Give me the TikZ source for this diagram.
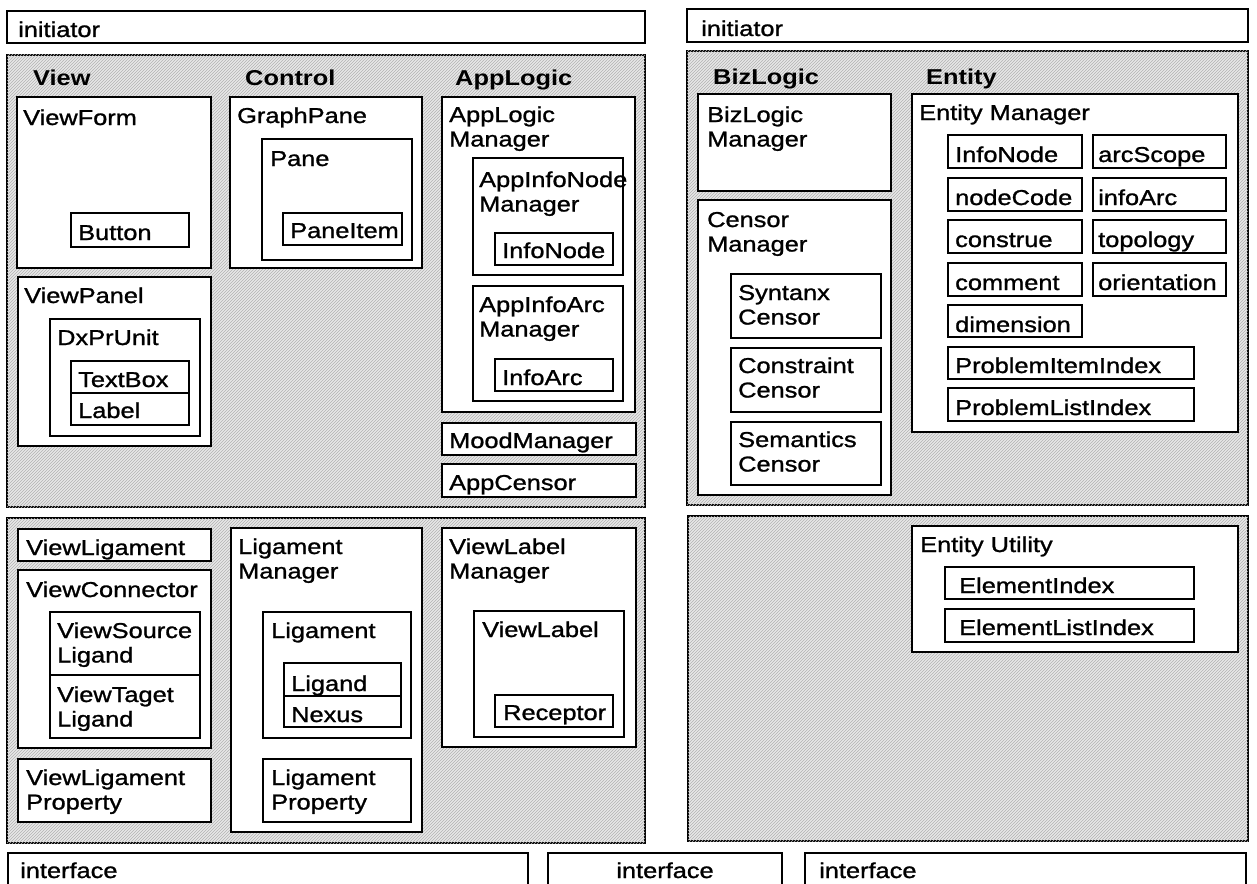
\documentclass[tikz,border=0pt]{standalone}
\usepackage{fontspec}
\setmainfont{Liberation Sans}[FakeStretch=1.18, UprightFeatures={FakeBold=1.2}]
\usetikzlibrary{fit,patterns}
\newcommand\bx[5]{\node[bx, fit={(#2,#3) (#4,#5)}] (#1) {};}
\newcommand\tx[4]{\node[tx] (#1) at (#2,#3) {\begin{tabular}[t]{@{}l@{}}#4\end{tabular}};}
\begin{document}
\begin{tikzpicture}[x=1pt,y=-1pt,
  panel/.style={draw=black, line width=1.8pt, fill=black!9, inner sep=0pt, rectangle,
    postaction={pattern=north east lines, pattern color=black!30}},
  bx/.style={draw=black, line width=1.7pt, fill=white, inner sep=0pt, rectangle},
  tx/.style={anchor=base west, inner sep=0pt, font=\fontsize{21.5}{24.5}\selectfont},
  hd/.style={anchor=base west, inner sep=0pt, font=\fontsize{21.5}{24.5}\selectfont\bfseries},
]
\useasboundingbox[fill=white] (0,0) rectangle (1257,883);

% ---------- top left ----------
\bx{initL}{7}{11}{645}{43}
\tx{initLt}{18}{37}{initiator}
\node[panel, fit={(7,55) (645,507)}] (ptl) {};
\node[hd] (hView) at (33,85) {View};
\node[hd] (hControl) at (245,85) {Control};
\node[hd] (hApp) at (455,85) {AppLogic};

\bx{vf}{17}{97}{211}{268}      \tx{vft}{23}{125}{ViewForm}
\bx{btn}{71}{213}{189}{247}    \tx{btnt}{78}{240}{Button}
\bx{gp}{230}{97}{422}{268}     \tx{gpt}{237}{123}{GraphPane}
\bx{pn}{262}{139}{412}{260}    \tx{pnt}{270}{166}{Pane}
\bx{pi}{283}{213}{402}{245}    \tx{pit}{290}{238}{PaneItem}
\bx{vp}{18}{277}{211}{446}     \tx{vpt}{24}{303}{ViewPanel}
\bx{dx}{50}{319}{200}{436}     \tx{dxt}{57}{345}{DxPrUnit}
\bx{tb}{71}{361}{189}{393}     \tx{tbt}{78}{387}{TextBox}
\bx{lb}{71}{393}{189}{425}     \tx{lbt}{78}{418}{Label}
\bx{alm}{442}{97}{635}{412}    \tx{almt}{449}{122}{AppLogic\\Manager}
\bx{ainm}{473}{158}{623}{275}  \tx{ainmt}{479}{187}{AppInfoNode\\Manager}
\bx{inn}{495}{233}{613}{265}   \tx{innt}{502}{258}{InfoNode}
\bx{aiam}{473}{286}{623}{401}  \tx{aiamt}{479}{312}{AppInfoArc\\Manager}
\bx{ia}{495}{359}{613}{391}    \tx{iat}{502}{385}{InfoArc}
\bx{mm}{442}{423}{636}{455}    \tx{mmt}{449}{448}{MoodManager}
\bx{ac}{442}{464}{636}{497}    \tx{act}{449}{490}{AppCensor}

% ---------- top right ----------
\bx{initR}{687}{9}{1248}{42}
\tx{initRt}{701}{36}{initiator}
\node[panel, fit={(687,51) (1248,505)}] (ptr) {};
\node[hd] (hBiz) at (713,84) {BizLogic};
\node[hd] (hEnt) at (926,84) {Entity};

\bx{blm}{698}{94}{891}{191}    \tx{blmt}{707}{122}{BizLogic\\Manager}
\bx{cm}{698}{200}{891}{495}    \tx{cmt}{707}{227}{Censor\\Manager}
\bx{sc}{731}{274}{881}{338}    \tx{sct}{738}{300}{Syntanx\\Censor}
\bx{cc}{731}{348}{881}{412}    \tx{cct}{738}{373}{Constraint\\Censor}
\bx{smc}{731}{422}{881}{485}   \tx{smct}{738}{447}{Semantics\\Censor}
\bx{em}{912}{94}{1238}{432}    \tx{emt}{919}{120}{Entity Manager}
\bx{e1}{948}{135}{1082}{168}   \tx{e1t}{955}{162}{InfoNode}
\bx{e2}{1093}{135}{1226}{168}  \tx{e2t}{1098}{162}{arcScope}
\bx{e3}{948}{178}{1082}{211}   \tx{e3t}{955}{205}{nodeCode}
\bx{e4}{1093}{178}{1226}{211}  \tx{e4t}{1098}{205}{infoArc}
\bx{e5}{948}{220}{1082}{253}   \tx{e5t}{955}{247}{construe}
\bx{e6}{1093}{220}{1226}{253}  \tx{e6t}{1098}{247}{topology}
\bx{e7}{948}{263}{1082}{296}   \tx{e7t}{955}{290}{comment}
\bx{e8}{1093}{263}{1226}{296}  \tx{e8t}{1098}{290}{orientation}
\bx{e9}{948}{305}{1082}{337}   \tx{e9t}{955}{332}{dimension}
\bx{e10}{948}{347}{1194}{379}  \tx{e10t}{955}{373}{ProblemItemIndex}
\bx{e11}{948}{388}{1194}{421}  \tx{e11t}{955}{415}{ProblemListIndex}

% ---------- bottom left ----------
\node[panel, fit={(7,518) (645,843)}] (pbl) {};
\bx{vl}{18}{529}{211}{561}     \tx{vlt}{26}{555}{ViewLigament}
\bx{vc}{18}{570}{211}{748}     \tx{vct}{26}{597}{ViewConnector}
\bx{vsl}{50}{612}{200}{675}    \tx{vslt}{57}{638}{ViewSource\\Ligand}
\bx{vtl}{50}{675}{200}{738}    \tx{vtlt}{57}{702}{ViewTaget\\Ligand}
\bx{vlp}{18}{759}{211}{822}    \tx{vlpt}{26}{785}{ViewLigament\\Property}
\bx{lm}{231}{528}{422}{832}    \tx{lmt}{238}{554}{Ligament\\Manager}
\bx{lg}{263}{612}{411}{738}    \tx{lgt}{271}{638}{Ligament}
\bx{ld}{284}{663}{401}{696}    \tx{ldt}{291}{691}{Ligand}
\bx{nx}{284}{696}{401}{727}    \tx{nxt}{291}{722}{Nexus}
\bx{lp}{263}{759}{411}{822}    \tx{lpt}{271}{785}{Ligament\\Property}
\bx{vlm}{442}{528}{636}{747}   \tx{vlmt}{449}{554}{ViewLabel\\Manager}
\bx{vlb}{474}{611}{624}{737}   \tx{vlbt}{482}{637}{ViewLabel}
\bx{rc}{495}{695}{613}{727}    \tx{rct}{503}{720}{Receptor}

% ---------- bottom right ----------
\node[panel, fit={(688,516) (1248,841)}] (pbr) {};
\bx{eu}{912}{526}{1238}{652}   \tx{eut}{920}{552}{Entity Utility}
\bx{ei}{945}{567}{1194}{599}   \tx{eit}{959}{593}{ElementIndex}
\bx{eli}{945}{609}{1194}{642}  \tx{elit}{959}{635}{ElementListIndex}

% ---------- interfaces ----------
\bx{ifL}{8}{853}{528}{900}     \tx{ifLt}{20}{878}{interface}
\bx{ifM}{548}{853}{782}{900}
\node[tx, anchor=base] (ifMt) at (665,878) {interface};
\bx{ifR}{805}{853}{1246}{900}  \tx{ifRt}{819}{878}{interface}
\end{tikzpicture}
\end{document}
